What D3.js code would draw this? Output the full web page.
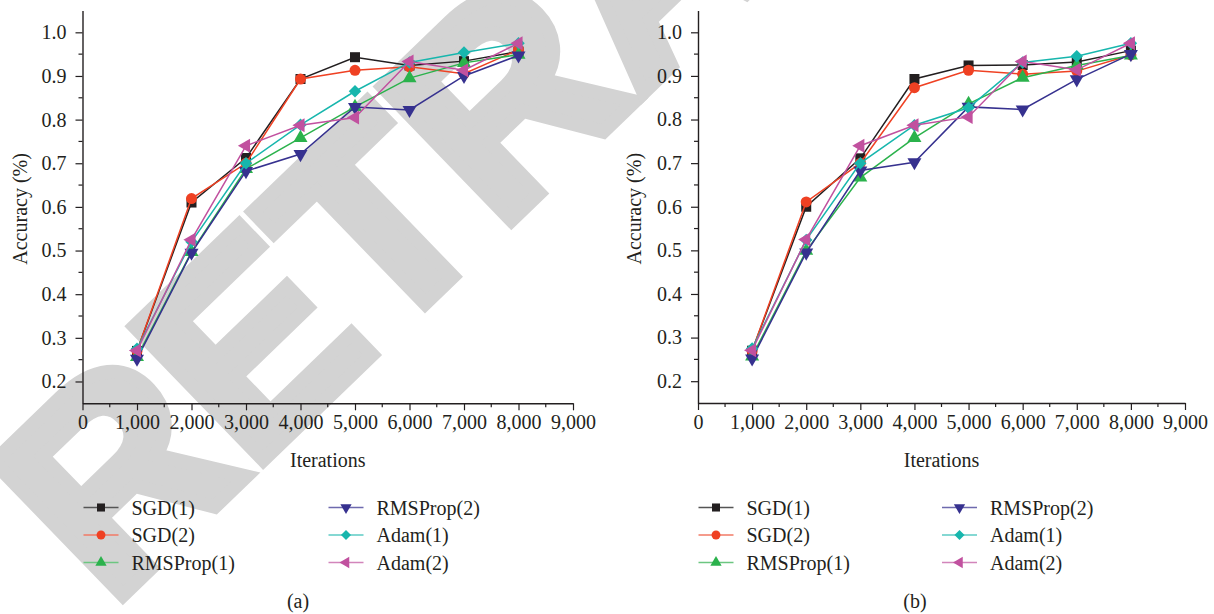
<!DOCTYPE html>
<html>
<head>
<meta charset="utf-8">
<script src="https://cdn.jsdelivr.net/npm/d3@7"></script>
<style>
  html, body { margin: 0; padding: 0; background: #fff; }
  svg { display: block; }
</style>
</head>
<body>
<svg id="chart" width="1214" height="614"></svg>
<script>
// ---------- data ----------
const iterations = [1000, 2000, 3000, 4000, 5000, 6000, 7000, 8000];
const xTicks = [0, 1000, 2000, 3000, 4000, 5000, 6000, 7000, 8000, 9000];
const yTicks = [0.2, 0.3, 0.4, 0.5, 0.6, 0.7, 0.8, 0.9, 1.0];
const seriesNames = ["SGD(1)", "SGD(2)", "RMSProp(1)", "RMSProp(2)", "Adam(1)", "Adam(2)"];

// panel (a)
const sgd1A  = [0.270, 0.610, 0.712, 0.893, 0.943, 0.924, 0.934, 0.956];
const sgd2A  = [0.270, 0.619, 0.700, 0.893, 0.913, 0.921, 0.905, 0.960];
const rms1A  = [0.256, 0.497, 0.687, 0.758, 0.829, 0.895, 0.930, 0.949];
const rms2A  = [0.252, 0.495, 0.682, 0.721, 0.829, 0.822, 0.900, 0.947];
const adam1A = [0.275, 0.520, 0.700, 0.788, 0.865, 0.931, 0.954, 0.975];
const adam2A = [0.271, 0.525, 0.740, 0.787, 0.805, 0.933, 0.913, 0.975];

// panel (b)
const sgd1B  = [0.270, 0.600, 0.711, 0.893, 0.924, 0.925, 0.932, 0.958];
const sgd2B  = [0.270, 0.611, 0.700, 0.873, 0.913, 0.904, 0.911, 0.948];
const rms1B  = [0.257, 0.499, 0.667, 0.758, 0.836, 0.896, 0.924, 0.947];
const rms2B  = [0.252, 0.495, 0.683, 0.702, 0.829, 0.823, 0.892, 0.950];
const adam1B = [0.275, 0.524, 0.700, 0.787, 0.827, 0.931, 0.945, 0.975];
const adam2B = [0.271, 0.525, 0.740, 0.787, 0.806, 0.933, 0.914, 0.975];

// ---------- styles ----------
const colors = ["#231f20", "#ef4123", "#2bb24c", "#36318f", "#17b6ad", "#c1519f"];
const legendLineColors = ["#555", "#f27a66", "#6cc681", "#6e6aae", "#5ccbc4", "#d285bb"];
const symbolDefs = [
  { type: d3.symbolSquare,   size: 100, rot: 0 },
  { type: d3.symbolCircle,   size: 95,  rot: 0 },
  { type: d3.symbolTriangle, size: 85,  rot: 0 },
  { type: d3.symbolTriangle, size: 85,  rot: 180 },
  { type: d3.symbolSquare,   size: 78,  rot: 45 },
  { type: d3.symbolTriangle, size: 85,  rot: -90 }
];

const svg = d3.select("#chart");
const serif = "'Liberation Serif', 'DejaVu Serif', serif";

// ---------- watermark (behind everything) ----------
svg.append("text")
  .attr("transform", "translate(110,608) rotate(-44)")
  .attr("font-family", "'Liberation Sans', Arial, sans-serif")
  .attr("font-weight", "bold")
  .attr("font-size", 270)
  .attr("fill", "#d3d3d3")
  .attr("stroke", "#d3d3d3")
  .attr("stroke-width", 14)
  .attr("stroke-linejoin", "miter")
  .text("RETRACTED");

function drawPanel(cfg) {
  const x = d3.scaleLinear().domain([0, 9000]).range([cfg.x0, cfg.x1]);
  const y = d3.scaleLinear().domain([0.15, 1.05]).range([cfg.yBottom, cfg.yTop]);
  const g = svg.append("g");

  // minor ticks
  g.append("g").selectAll("line").data(d3.range(500, 9000, 1000)).join("line")
    .attr("x1", d => x(d)).attr("x2", d => x(d))
    .attr("y1", cfg.yBottom).attr("y2", cfg.yBottom + 4)
    .attr("stroke", "#231f20").attr("stroke-width", 1.2);
  g.append("g").selectAll("line").data(d3.range(0.25, 1.05, 0.1)).join("line")
    .attr("x1", cfg.x0 - 4).attr("x2", cfg.x0)
    .attr("y1", d => y(d)).attr("y2", d => y(d))
    .attr("stroke", "#231f20").attr("stroke-width", 1.2);

  // x axis
  const xAxis = d3.axisBottom(x).tickValues(xTicks).tickSize(7).tickPadding(5)
    .tickFormat(d3.format(",")).tickSizeOuter(0);
  const gx = g.append("g").attr("transform", `translate(0,${cfg.yBottom})`).call(xAxis);
  gx.select(".domain").attr("stroke", "#231f20").attr("stroke-width", 1.4);
  gx.selectAll(".tick line").attr("stroke", "#231f20").attr("stroke-width", 1.2);
  gx.selectAll(".tick text").attr("font-family", serif).attr("font-size", 20).attr("fill", "#231f20");

  // y axis
  const yAxis = d3.axisLeft(y).tickValues(yTicks).tickSize(7).tickPadding(9)
    .tickFormat(d3.format(".1f")).tickSizeOuter(0);
  const gy = g.append("g").attr("transform", `translate(${cfg.x0},0)`).call(yAxis);
  gy.select(".domain").attr("stroke", "#231f20").attr("stroke-width", 1.4);
  gy.selectAll(".tick line").attr("stroke", "#231f20").attr("stroke-width", 1.2);
  gy.selectAll(".tick text").attr("font-family", serif).attr("font-size", 20).attr("fill", "#231f20");

  // axis titles
  g.append("text")
    .attr("transform", `translate(${cfg.yLabelX},${(cfg.yTop + cfg.yBottom) / 2 + 2}) rotate(-90)`)
    .attr("text-anchor", "middle").attr("dominant-baseline", "central")
    .attr("font-family", serif).attr("font-size", 20).attr("fill", "#231f20")
    .text("Accuracy (%)");
  g.append("text")
    .attr("x", (cfg.x0 + cfg.x1) / 2).attr("y", 467)
    .attr("text-anchor", "middle")
    .attr("font-family", serif).attr("font-size", 20).attr("fill", "#231f20")
    .text("Iterations");

  // series
  const line = d3.line().x((d, i) => x(iterations[i])).y(d => y(d));
  cfg.series.forEach((vals, si) => {
    const sg = g.append("g");
    sg.append("path").datum(vals)
      .attr("d", line).attr("fill", "none")
      .attr("stroke", colors[si]).attr("stroke-width", 1.5);
    const sym = d3.symbol().type(symbolDefs[si].type).size(symbolDefs[si].size);
    sg.selectAll("path.m").data(vals).join("path").attr("class", "m")
      .attr("d", sym)
      .attr("transform", (d, i) => `translate(${x(iterations[i])},${y(d)}) rotate(${symbolDefs[si].rot})`)
      .attr("fill", colors[si]);
  });

  // legend
  const lg = g.append("g");
  seriesNames.forEach((name, si) => {
    const col = Math.floor(si / 3), row = si % 3;
    const lx = cfg.legX[col], ly = cfg.legY + row * 27.5;
    lg.append("line")
      .attr("x1", lx).attr("x2", lx + 35).attr("y1", ly).attr("y2", ly)
      .attr("stroke", legendLineColors[si]).attr("stroke-width", 1.5);
    const sym = d3.symbol().type(symbolDefs[si].type).size(symbolDefs[si].size * 0.65);
    lg.append("path").attr("d", sym)
      .attr("transform", `translate(${lx + 17.5},${ly}) rotate(${symbolDefs[si].rot})`)
      .attr("fill", colors[si]);
    lg.append("text")
      .attr("x", lx + 48).attr("y", ly + 7)
      .attr("font-family", serif).attr("font-size", 20).attr("fill", "#231f20")
      .text(name);
  });

  g.append("text")
    .attr("x", cfg.capX).attr("y", 608)
    .attr("text-anchor", "middle")
    .attr("font-family", serif).attr("font-size", 20).attr("fill", "#231f20")
    .text(cfg.caption);
}

drawPanel({
  x0: 82.5, x1: 573, yTop: 10.5, yBottom: 403.3, yLabelX: 20,
  series: [sgd1A, sgd2A, rms1A, rms2A, adam1A, adam2A],
  legX: [83.5, 328.5], legY: 507.5, capX: 298, caption: "(a)"
});
drawPanel({
  x0: 698, x1: 1185, yTop: 10.5, yBottom: 403, yLabelX: 634,
  series: [sgd1B, sgd2B, rms1B, rms2B, adam1B, adam2B],
  legX: [698.5, 942], legY: 507.5, capX: 915, caption: "(b)"
});
</script>
</body>
</html>
